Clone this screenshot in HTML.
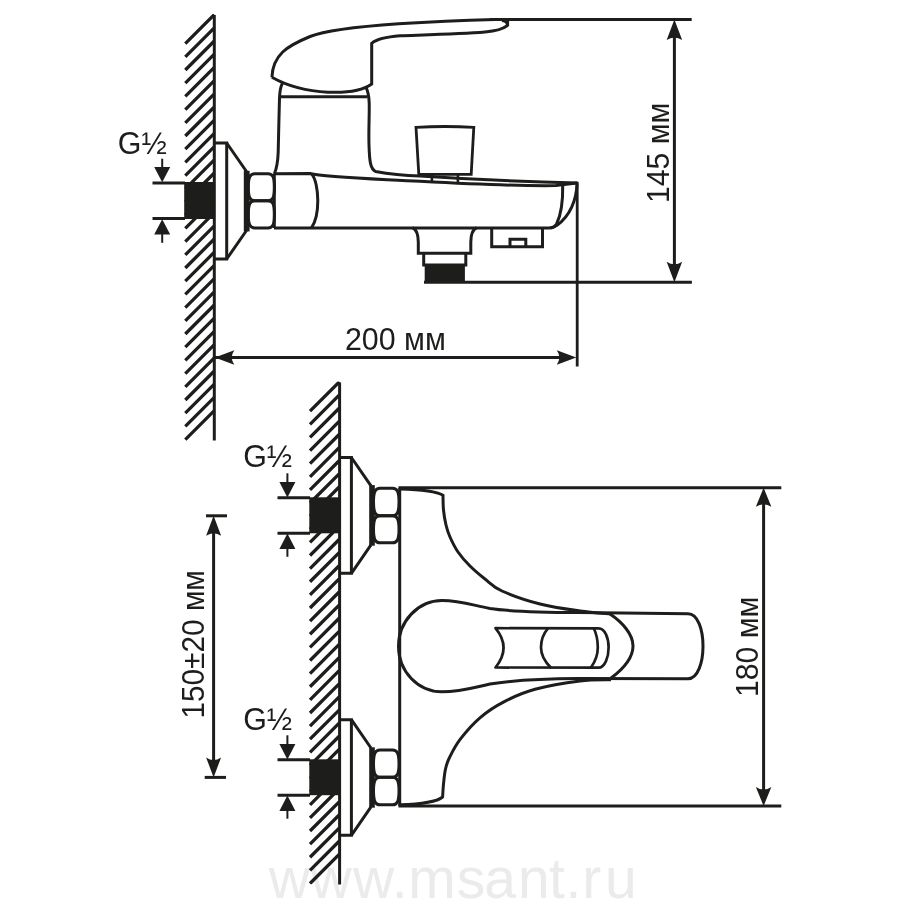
<!DOCTYPE html>
<html><head><meta charset="utf-8"><style>
html,body{margin:0;padding:0;background:#fff;}
body{width:900px;height:900px;overflow:hidden;}
svg{display:block;will-change:transform;}
text{font-family:"Liberation Sans",sans-serif;fill:#1d1d1b;stroke:none;}
</style></head><body>
<svg width="900" height="900" viewBox="0 0 900 900">
<rect width="900" height="900" fill="#fff"/>
<text y="897.5" font-size="57" style="fill:#ebebeb"><tspan x="268.8">w</tspan><tspan x="310.4">w</tspan><tspan x="352.9">w</tspan><tspan x="391.8">.</tspan><tspan x="408.2">m</tspan><tspan x="456.7">s</tspan><tspan x="484.3">a</tspan><tspan x="518">n</tspan><tspan x="549.1">t</tspan><tspan x="565.5">.</tspan><tspan x="582.2">r</tspan><tspan x="605">u</tspan></text>
<g stroke="#1d1d1b" fill="none" stroke-linecap="butt" stroke-linejoin="miter">
<clipPath id="c1"><rect x="180.3" y="14" width="39.0" height="427"/></clipPath>
<path d="M185.3,43.60 L214.3,14.60 M185.3,56.80 L214.3,27.80 M185.3,70.00 L214.3,41.00 M185.3,83.20 L214.3,54.20 M185.3,96.40 L214.3,67.40 M185.3,109.60 L214.3,80.60 M185.3,122.80 L214.3,93.80 M185.3,136.00 L214.3,107.00 M185.3,149.20 L214.3,120.20 M185.3,162.40 L214.3,133.40 M185.3,175.60 L214.3,146.60 M185.3,188.80 L214.3,159.80 M185.3,202.00 L214.3,173.00 M185.3,215.20 L214.3,186.20 M185.3,228.40 L214.3,199.40 M185.3,241.60 L214.3,212.60 M185.3,254.80 L214.3,225.80 M185.3,268.00 L214.3,239.00 M185.3,281.20 L214.3,252.20 M185.3,294.40 L214.3,265.40 M185.3,307.60 L214.3,278.60 M185.3,320.80 L214.3,291.80 M185.3,334.00 L214.3,305.00 M185.3,347.20 L214.3,318.20 M185.3,360.40 L214.3,331.40 M185.3,373.60 L214.3,344.60 M185.3,386.80 L214.3,357.80 M185.3,400.00 L214.3,371.00 M185.3,413.20 L214.3,384.20 M185.3,426.40 L214.3,397.40 M185.3,439.60 L214.3,410.60" stroke-width="3.3" clip-path="url(#c1)"/>
<line x1="214.3" y1="15" x2="214.3" y2="440.6" stroke-width="3.0"/>
<rect x="184.2" y="182" width="30.100000000000023" height="37" fill="#1d1d1b" stroke="none"/>
<line x1="152.5" y1="183" x2="185" y2="183" stroke-width="3.0"/>
<line x1="152.5" y1="218.5" x2="185" y2="218.5" stroke-width="3.0"/>
<path d="M162.2,182.2 L154.2,166.89999999999998 Q162.2,166.89999999999998 170.2,166.89999999999998 Z" fill="#1d1d1b" stroke="none"/>
<line x1="162.2" y1="158.7" x2="162.2" y2="168" stroke-width="2"/>
<path d="M162.2,219.3 L154.2,234.60000000000002 Q162.2,234.60000000000002 170.2,234.60000000000002 Z" fill="#1d1d1b" stroke="none"/>
<line x1="162.2" y1="233" x2="162.2" y2="242.8" stroke-width="2"/>
<text transform="translate(117.8,153.5) scale(1,1.05)" font-size="30.4">G½</text>
<path d="M214.3,143 H226.7 V259 H214.3" stroke-width="3.0" fill="none" />
<path d="M226.7,143 L246.5,171.5 M226.7,259 L246.5,230.5" stroke-width="3.0" fill="none" />
<rect x="243.8" y="170.8" width="5.8" height="60.6" fill="#1d1d1b" stroke="none"/>
<path d="M254.8,173.7 H268.0 C272.5,173.7 274.5,176.7 274.5,187.25 C274.5,197.8 272.5,200.8 268.0,200.8 H254.8 C250.3,200.8 248.3,197.8 248.3,187.25 C248.3,176.7 250.3,173.7 254.8,173.7 Z" stroke-width="3.0" fill="none" />
<path d="M254.8,200.8 H268.0 C272.5,200.8 274.5,203.8 274.5,214.4 C274.5,225 272.5,228 268.0,228 H254.8 C250.3,228 248.3,225 248.3,214.4 C248.3,203.8 250.3,200.8 254.8,200.8 Z" stroke-width="3.0" fill="none" />
<line x1="274.3" y1="173.7" x2="274.3" y2="228" stroke-width="3"/>
<path d="M274,173.7 L310,173.5 C325,177.5 380,179 420,181.3 C470,184 530,186 556,185.6 L576.8,183" stroke-width="3.0" fill="none" />
<path d="M274,228 H549 C552,228 554.5,227 557,225.2 C570,216 576.5,200 577,183.5" stroke-width="3.0" fill="none" />
<path d="M577.2,181.8 V366.5" stroke-width="2.8" fill="none" />
<path d="M562.7,185.2 C563,200 561,215 556.4,224.4 C555,226.5 553,227.5 550.5,228" stroke-width="3.0" fill="none" />
<path d="M311.5,173.8 C315.5,178 317.8,190 317.8,200.5 C317.8,211 315.5,222 311.5,227.8" stroke-width="3.0" fill="none" />
<path d="M282.3,83.3 C280.5,87 279.7,92 279.5,98 C279,115 278.5,140 278.2,152 C277.8,163 276.5,169 274.3,174" stroke-width="3.0" fill="none" />
<path d="M365.7,86.7 C367.5,90 369,96 369.2,103 C369.5,115 368.5,130 369,145 C369.5,162 370.5,169 375.5,171.5 C392,174.6 405,175.6 420,176 C470,179.3 540,182.2 577.4,183" stroke-width="3.0" fill="none" />
<line x1="281" y1="96.7" x2="367.5" y2="96.7" stroke-width="3.0"/>
<path d="M271.9,77.3 C272.9,54.7 287.0,46.0 310.1,36.5 C339.5,24.4 455.1,20.3 495.0,19.4 M502,20.6 C507,21.2 508.5,24 506.5,26.2 C502,30 494,31.2 485,32 C460,34 420,35 400,35.8 C385,37 377,39 371.7,43.3 V84 C355,96 305,96 271.9,77.3" stroke-width="3.0" fill="none" />
<line x1="507.6" y1="19.4" x2="507.6" y2="26.3" stroke-width="3.0"/>
<line x1="490" y1="19.4" x2="691.7" y2="19.4" stroke-width="3.0"/>
<path d="M416,127.4 Q444.8,125.6 473.8,127.4 L471.2,174.3 L418.8,174.3 Z" stroke-width="2.8" fill="none" />
<path d="M431.9,174.3 V181.5 M457.9,174.3 V182" stroke-width="2.6" fill="none" />
<path d="M412.5,227.6 C417,230 418.3,236 418.3,242 V253.3 H470.8 V242 C470.8,236 472,230 476.7,227.6" stroke-width="3.0" fill="none" />
<path d="M423.7,253.3 V265 H465.8 V253.3" stroke-width="3.0" fill="none" />
<rect x="424.7" y="265" width="40.2" height="17.5" fill="#1d1d1b" stroke="none"/>
<line x1="424" y1="282.2" x2="691.9" y2="282.2" stroke-width="3.0"/>
<path d="M491.7,227.6 V246.7 H542.5 V227.6 M510,246.7 V239.2 H525.8 V246.7" stroke-width="3.0" fill="none" />
<line x1="674.4" y1="30" x2="674.4" y2="272" stroke-width="3.0"/>
<path d="M674.4,19.4 L666.65,39.9 Q674.4,34.9 682.15,39.9 Z" fill="#1d1d1b" stroke="none"/>
<path d="M674.4,282.2 L666.65,261.7 Q674.4,266.7 682.15,261.7 Z" fill="#1d1d1b" stroke="none"/>
<text transform="translate(668.7,203.1) rotate(-90) scale(1,1.05)" font-size="30.2">145 мм</text>
<line x1="214.3" y1="357.6" x2="566" y2="357.6" stroke-width="3.0"/>
<path d="M214.8,357.6 L234.3,350.35 Q229.3,357.6 234.3,364.85 Z" fill="#1d1d1b" stroke="none"/>
<path d="M576.3,357.6 L556.8,350.35 Q561.8,357.6 556.8,364.85 Z" fill="#1d1d1b" stroke="none"/>
<text transform="translate(344.9,349.8) scale(1,1.05)" font-size="30.4">200 мм</text>
<clipPath id="c2"><rect x="305" y="381.5" width="39.39999999999998" height="503.1"/></clipPath>
<path d="M310.0,411.20 L339.4,381.80 M310.0,424.32 L339.4,394.92 M310.0,437.44 L339.4,408.04 M310.0,450.56 L339.4,421.16 M310.0,463.68 L339.4,434.28 M310.0,476.80 L339.4,447.40 M310.0,489.92 L339.4,460.52 M310.0,503.04 L339.4,473.64 M310.0,516.16 L339.4,486.76 M310.0,529.28 L339.4,499.88 M310.0,542.40 L339.4,513.00 M310.0,555.52 L339.4,526.12 M310.0,568.64 L339.4,539.24 M310.0,581.76 L339.4,552.36 M310.0,594.88 L339.4,565.48 M310.0,608.00 L339.4,578.60 M310.0,621.12 L339.4,591.72 M310.0,634.24 L339.4,604.84 M310.0,647.36 L339.4,617.96 M310.0,660.48 L339.4,631.08 M310.0,673.60 L339.4,644.20 M310.0,686.72 L339.4,657.32 M310.0,699.84 L339.4,670.44 M310.0,712.96 L339.4,683.56 M310.0,726.08 L339.4,696.68 M310.0,739.20 L339.4,709.80 M310.0,752.32 L339.4,722.92 M310.0,765.44 L339.4,736.04 M310.0,778.56 L339.4,749.16 M310.0,791.68 L339.4,762.28 M310.0,804.80 L339.4,775.40 M310.0,817.92 L339.4,788.52 M310.0,831.04 L339.4,801.64 M310.0,844.16 L339.4,814.76 M310.0,857.28 L339.4,827.88 M310.0,870.40 L339.4,841.00 M310.0,883.52 L339.4,854.12" stroke-width="3.3" clip-path="url(#c2)"/>
<line x1="339.6" y1="382.5" x2="339.6" y2="884.4" stroke-width="3.0"/>
<rect x="309.3" y="497.3" width="30.30000000000001" height="35.99999999999994" fill="#1d1d1b" stroke="none"/>
<line x1="277.5" y1="497.8" x2="310" y2="497.8" stroke-width="3.0"/>
<line x1="277.5" y1="533.3" x2="310" y2="533.3" stroke-width="3.0"/>
<path d="M287.4,497.6 L279.4,482.1 Q287.4,482.1 295.4,482.1 Z" fill="#1d1d1b" stroke="none"/>
<line x1="287.4" y1="473.3" x2="287.4" y2="483.3" stroke-width="2"/>
<path d="M287.4,533.5 L279.4,549.0 Q287.4,549.0 295.4,549.0 Z" fill="#1d1d1b" stroke="none"/>
<line x1="287.4" y1="547.3" x2="287.4" y2="556.8" stroke-width="2"/>
<text transform="translate(243.2,467.4) scale(1,1.05)" font-size="30.4">G½</text>
<rect x="309.3" y="759.3" width="30.30000000000001" height="35.90000000000009" fill="#1d1d1b" stroke="none"/>
<line x1="277.5" y1="759.8" x2="310" y2="759.8" stroke-width="3.0"/>
<line x1="277.5" y1="795.2" x2="310" y2="795.2" stroke-width="3.0"/>
<path d="M287.4,759.5999999999999 L279.4,744.0999999999999 Q287.4,744.0999999999999 295.4,744.0999999999999 Z" fill="#1d1d1b" stroke="none"/>
<line x1="287.4" y1="735.3" x2="287.4" y2="745.3" stroke-width="2"/>
<path d="M287.4,795.4000000000001 L279.4,810.9000000000001 Q287.4,810.9000000000001 295.4,810.9000000000001 Z" fill="#1d1d1b" stroke="none"/>
<line x1="287.4" y1="809.2" x2="287.4" y2="818.7" stroke-width="2"/>
<text transform="translate(243.2,730) scale(1,1.05)" font-size="30.4">G½</text>
<path d="M339.6,457.5 H351.4 V573.3 H339.6" stroke-width="3.0" fill="none" />
<path d="M351.4,457.5 L371,485.8 M351.4,573.3 L371,544.8" stroke-width="3.0" fill="none" />
<rect x="369.2" y="485.1" width="5.6" height="60.59999999999995" fill="#1d1d1b" stroke="none"/>
<path d="M380.0,488.3 H392.5 C397.0,488.3 399.0,491.3 399.0,502.04999999999995 C399.0,512.8 397.0,515.8 392.5,515.8 H380.0 C375.5,515.8 373.5,512.8 373.5,502.04999999999995 C373.5,491.3 375.5,488.3 380.0,488.3 Z" stroke-width="3.0" fill="none" />
<path d="M380.0,515.8 H392.5 C397.0,515.8 399.0,518.8 399.0,529.3 C399.0,539.8 397.0,542.8 392.5,542.8 H380.0 C375.5,542.8 373.5,539.8 373.5,529.3 C373.5,518.8 375.5,515.8 380.0,515.8 Z" stroke-width="3.0" fill="none" />
<path d="M339.6,719.7 H351.4 V835.3 H339.6" stroke-width="3.0" fill="none" />
<path d="M351.4,719.7 L371,748.0 M351.4,835.3 L371,806.8" stroke-width="3.0" fill="none" />
<rect x="369.2" y="747.3000000000001" width="5.6" height="60.399999999999906" fill="#1d1d1b" stroke="none"/>
<path d="M380.0,750 H392.5 C397.0,750 399.0,753 399.0,763.65 C399.0,774.3 397.0,777.3 392.5,777.3 H380.0 C375.5,777.3 373.5,774.3 373.5,763.65 C373.5,753 375.5,750 380.0,750 Z" stroke-width="3.0" fill="none" />
<path d="M380.0,777.3 H392.5 C397.0,777.3 399.0,780.3 399.0,791.05 C399.0,801.8 397.0,804.8 392.5,804.8 H380.0 C375.5,804.8 373.5,801.8 373.5,791.05 C373.5,780.3 375.5,777.3 380.0,777.3 Z" stroke-width="3.0" fill="none" />
<line x1="399.7" y1="487.7" x2="399.7" y2="806" stroke-width="3.0"/>
<line x1="398.5" y1="487.7" x2="781.3" y2="487.7" stroke-width="3.0"/>
<line x1="398.5" y1="806" x2="781.3" y2="806" stroke-width="3.0"/>
<path d="M400,489 C418,489.5 436,491 443,495.3 C443.08,497.75 443.00,505.05 443.5,510 C444.00,514.95 444.92,520.50 446,525 C447.08,529.50 448.00,532.50 450,537 C452.00,541.50 454.67,547.17 458,552 C461.33,556.83 465.50,561.50 470,566 C474.50,570.50 479.67,574.83 485,579 C490.33,583.17 492.83,586.83 502,591 C511.17,595.17 527.00,600.67 540,604 C553.00,607.33 568.17,609.33 580,611 C591.83,612.67 605.83,613.50 611,614 " stroke-width="3.0" fill="none" />
<path d="M400,804.8 C418,804.3 436,802.5 442.6,797 C442.75,794.83 443.02,788.67 443.5,784 C443.98,779.33 444.50,773.42 445.5,769 C446.50,764.58 447.03,762.48 449.5,757.5 C451.97,752.52 455.13,745.80 460.3,739.1 C465.47,732.40 473.23,723.52 480.5,717.3 C487.77,711.08 494.82,706.47 503.9,701.8 C512.98,697.13 522.32,692.77 535,689.3 C547.68,685.83 567.33,682.58 580,681 C592.67,679.42 605.83,680.00 611,679.8 " stroke-width="3.0" fill="none" />
<path d="M442,600.5 C460,600.5 472,605 490,608.5 C512,611.8 545,612.4 578,612.6 L688,613.8 C698,613.8 703,630 703,646.3 C703,662 698,678.8 688,678.8 L578,678.6 C545,678.8 512,680.5 490,684 C472,688 460,691.8 442,691.8 C418,691.8 398.5,671.5 398.5,646.3 C398.5,621.5 418,600.5 442,600.5 Z" stroke-width="3.0" fill="none" />
<path d="M610,614 C622,622 633,634 633,646 C633,658 622,670 610.5,678.5" stroke-width="3.0" fill="none" />
<path d="M598.5,628.4 L495.5,628.2 Q511.6,647.7 495.5,667.5 L598.5,667.7 C605,667.7 608.6,657 608.6,647.5 C608.6,638 605,628.4 598.5,628.4 Z" stroke-width="2.7" fill="none" stroke-linejoin="round"/>
<path d="M548,628.3 C543,634 541,641 541,647.5 C541,655 545,662 551,667.7" stroke-width="2.7" fill="none" />
<path d="M593.9,628.5 C596.5,634 597.8,641 597.8,647.5 C597.8,655 595,662 590.8,667.7" stroke-width="2.7" fill="none" />
<line x1="763.6" y1="500" x2="763.6" y2="794" stroke-width="3.0"/>
<path d="M763.6,487.7 L755.85,506.7 Q763.6,501.7 771.35,506.7 Z" fill="#1d1d1b" stroke="none"/>
<path d="M763.6,806 L755.85,787 Q763.6,792 771.35,787 Z" fill="#1d1d1b" stroke="none"/>
<text transform="translate(758.1,697.0) rotate(-90) scale(1,1.05)" font-size="30.2">180 мм</text>
<line x1="213.6" y1="525" x2="213.6" y2="768" stroke-width="3.0"/>
<line x1="206" y1="515.8" x2="227" y2="515.8" stroke-width="3.0"/>
<line x1="204.7" y1="777.4" x2="226" y2="777.4" stroke-width="3.0"/>
<path d="M213.6,515.8 L206.1,535.8 Q213.6,530.8 221.1,535.8 Z" fill="#1d1d1b" stroke="none"/>
<path d="M213.6,777.4 L206.1,757.4 Q213.6,762.4 221.1,757.4 Z" fill="#1d1d1b" stroke="none"/>
<text transform="translate(203.8,718.6) rotate(-90) scale(1,1.05)" font-size="29.8">150±20 мм</text>
</g>
</svg>
</body></html>
